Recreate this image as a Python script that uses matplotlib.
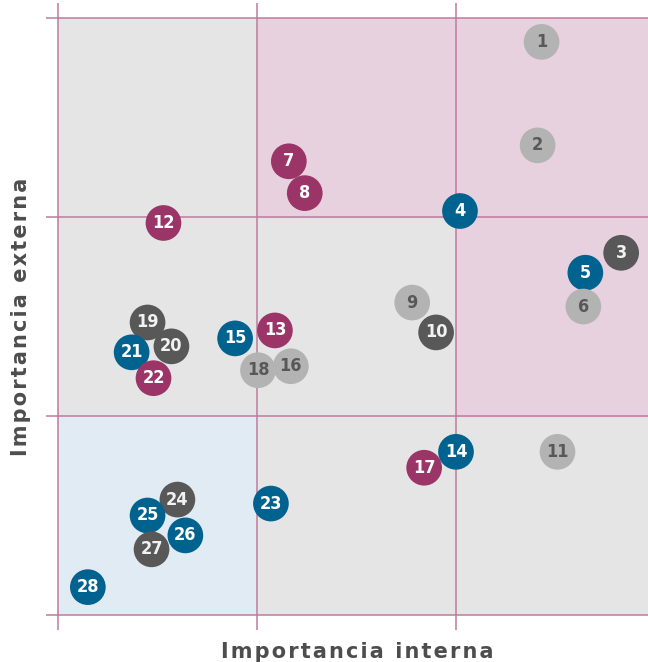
import matplotlib
matplotlib.use("Agg")
import matplotlib.pyplot as plt
from matplotlib.patches import Rectangle

# materiality matrix: issue number, internal importance (x), external importance (y), group
labels = [str(i) for i in range(1, 29)]
x_int = [2.43, 2.41, 2.83, 2.02, 2.65, 2.64, 1.16, 1.24, 1.78, 1.90,
         2.51, 0.53, 1.09, 2.00, 0.89, 1.17, 1.84, 1.005, 0.45, 0.57,
         0.37, 0.48, 1.07, 0.60, 0.45, 0.64, 0.47, 0.15]
y_ext = [2.88, 2.36, 1.82, 2.03, 1.72, 1.55, 2.28, 2.12, 1.57, 1.42,
         0.82, 1.97, 1.43, 0.82, 1.39, 1.25, 0.74, 1.23, 1.47, 1.35,
         1.32, 1.19, 0.56, 0.58, 0.50, 0.40, 0.33, 0.14]
group = ["light", "light", "dark", "blue", "blue", "light", "magenta", "magenta", "light", "dark",
         "light", "magenta", "magenta", "blue", "blue", "light", "magenta", "light", "dark", "dark",
         "blue", "magenta", "blue", "dark", "blue", "blue", "dark", "blue"]

fill = {"magenta": "#9b3467", "blue": "#00628f", "dark": "#585858", "light": "#b3b3b3"}
txt = {"magenta": "white", "blue": "white", "dark": "#f2f2f2", "light": "#585858"}

line_col = "#c07a9f"
W, H = 648, 662
fig = plt.figure(figsize=(W / 100, H / 100), dpi=100)
ax = fig.add_axes([58 / W, (H - 615) / H, 590 / W, 597 / H])

xmax = 590 / 199
ax.set_xlim(0, xmax)
ax.set_ylim(0, 3)
ax.set_facecolor("#e5e5e5")

# coloured zones
ax.add_patch(Rectangle((1, 2), xmax, 1, color="#e8d1de", zorder=0))
ax.add_patch(Rectangle((2, 1), xmax, 1, color="#e8d1de", zorder=0))
ax.add_patch(Rectangle((0, 0), 1, 1, color="#e1ebf4", zorder=0))

for v in [1, 2]:
    ax.axvline(v, color=line_col, lw=1.1, zorder=1)
    ax.axhline(v, color=line_col, lw=1.1, zorder=1)

for s in ["left", "bottom", "top"]:
    ax.spines[s].set_color(line_col)
    ax.spines[s].set_linewidth(1.1)
ax.spines["right"].set_visible(False)

ax.set_xticks([0, 1, 2])
ax.set_yticks([0, 1, 2, 3])
ax.tick_params(axis="x", which="both", direction="out", length=11, width=1.1,
               color=line_col, top=True, bottom=True, labelbottom=False)
ax.tick_params(axis="y", direction="out", length=9, width=1.1,
               color=line_col, labelleft=False)

for i in range(len(labels)):
    g = group[i]
    ax.scatter(x_int[i], y_ext[i], s=660, color=fill[g], edgecolors="none",
               zorder=3 + i * 0.01, clip_on=False)
    ax.text(x_int[i], y_ext[i], labels[i], color=txt[g], ha="center", va="center",
            fontsize=13, fontweight="bold", fontstretch="condensed",
            family="DejaVu Sans", zorder=3 + i * 0.01 + 0.005)


def spaced(s):
    # letter-spaced look of the original labels
    return "\u200a".join(s)


fig.text(357 / W, 1 - 652 / H, spaced("Importancia interna"), ha="center", va="center",
         fontsize=15, fontweight="bold", color="#4d4d4d")
fig.text(21 / W, 1 - 317 / H, spaced("Importancia externa"), ha="center", va="center",
         rotation=90, fontsize=15, fontweight="bold", color="#4d4d4d")

fig.savefig("out.png", dpi=100)
